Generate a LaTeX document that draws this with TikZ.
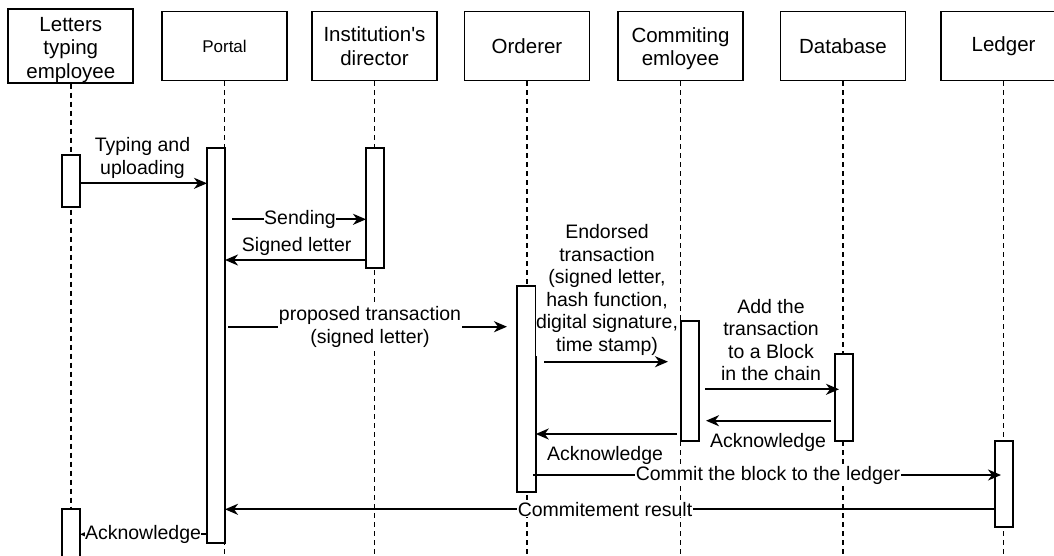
\documentclass[tikz,border=0pt]{standalone}
\usepackage{fontspec}
\setmainfont{Liberation Sans}
\usetikzlibrary{arrows.meta}
\begin{document}
\begin{tikzpicture}[x=1pt,y=-1pt,
  head/.style={draw, line width=1.9pt, minimum width=125pt, minimum height=69pt,
    inner sep=0pt, align=center, font=\fontsize{20.5}{23.5}\selectfont},
  act/.style={draw, fill=white, line width=1.9pt, minimum width=18pt,
    inner sep=0pt, outer sep=0pt},
  life/.style={line width=1.7pt, dash pattern=on 5pt off 4pt},
  msg/.style={line width=1.9pt, -{Stealth[length=13pt,width=11pt,inset=4pt]}},
  lbl/.style={fill=white, inner xsep=0.5pt, inner ysep=1pt, align=center,
    font=\fontsize{19.5}{22.5}\selectfont}]
\clip (0,0) rectangle (1054,555);
\fill[white] (0,0) rectangle (1054,555);

% header boxes
\node[head] (hL) at (70.8,46) {\rule{0pt}{22pt}Letters\\typing\\employee};
\node[head, font=\fontsize{17}{20}\selectfont] (hP) at (224.5,46) {Portal};
\node[head] (hD) at (374.5,46) {Institution\textquotesingle s\\director};
\node[head] (hO) at (527,46) {Orderer};
\node[head] (hC) at (680.5,46) {\rule{0pt}{20pt}Commiting\\emloyee};
\node[head] (hB) at (843,46) {Database};
\node[head] (hG) at (1003.6,46) {Ledger};

% lifeline ends
\coordinate (eL) at (70.8,560);
\coordinate (eP) at (224.5,560);
\coordinate (eD) at (374.5,560);
\coordinate (eO) at (527,560);
\coordinate (eC) at (680.5,560);
\coordinate (eB) at (843,560);
\coordinate (eG) at (1003.6,560);
\foreach \h/\e in {hL/eL,hP/eP,hD/eD,hO/eO,hC/eC,hB/eB,hG/eG}
  \draw[life] (\h) -- (\e);

% activation boxes
\node[act, minimum height=52pt] (la1) at (71,181) {};
\node[act, minimum height=62pt] (la2) at (71,540) {};
\node[act, minimum height=395pt] (pa) at (216,345.5) {};
\node[act, minimum height=120pt] (da) at (375,208) {};
\node[act, minimum width=18.5pt, minimum height=206pt] (oa) at (526.5,389) {};
\node[act, minimum height=120pt] (ca) at (690,381) {};
\node[act, minimum height=87pt] (dba) at (844,397.5) {};
\node[act, minimum height=86pt] (lga) at (1004,484) {};

% arrow end coordinates
\coordinate (s2) at (232,219.3);
\coordinate (s4) at (228,326.7);
\coordinate (t4) at (507,326.7);
\coordinate (s5) at (544,361.7);
\coordinate (t5) at (668,361.7);
\coordinate (s6) at (705,389.3);
\coordinate (t6) at (839,389.3);
\coordinate (s7) at (831,420.7);
\coordinate (t7) at (706,420.7);
\coordinate (s8) at (677,434);
\coordinate (s9) at (533,475);
\coordinate (t9) at (1001,475);

% messages
\draw[msg] (la1.east |- 0,183.3) -- (pa.west |- 0,183.3);
\draw[msg] (s2) -- (da.west |- s2);
\draw[msg] (da.west |- 0,260) -- (pa.east |- 0,260);
\draw[msg] (s4) -- (t4);
\draw[msg] (s5) -- (t5);
\draw[msg] (s6) -- (t6);
\draw[msg] (s7) -- (t7);
\draw[msg] (s8) -- (oa.east |- s8);
\draw[msg] (s9) -- (t9);
\draw[msg] (lga.west |- 0,509.3) -- (pa.east |- 0,509.3);
\draw[msg] (pa.west |- 0,534.3) -- (la2.east |- 0,534.3);

% labels
\node[lbl] (l1) at (142.5,158) {Typing and\\uploading};
\node[lbl] (l2) at (300,219.3) {Sending};
\node[lbl] (l3) at (296.7,246) {Signed letter};
\node[lbl] (l4) at (370,327) {proposed transaction\\(signed letter)};
\node[lbl] (l5) at (607,290) {Endorsed\\transaction\\(signed letter,\\hash function,\\digital signature,\\time stamp)};
\node[lbl] (l6) at (771,340) {Add the\\transaction\\to a Block\\in the chain};
\node[lbl] (l7) at (768,442) {Acknowledge};
\node[lbl] (l8) at (605,455) {Acknowledge};
\node[lbl] (l9) at (768,475) {Commit the block to the ledger};
\node[lbl] (l10) at (605,509.3) {Commitement result};
\node[lbl] (l11) at (143,534.3) {Acknowledge};
\end{tikzpicture}
\end{document}
